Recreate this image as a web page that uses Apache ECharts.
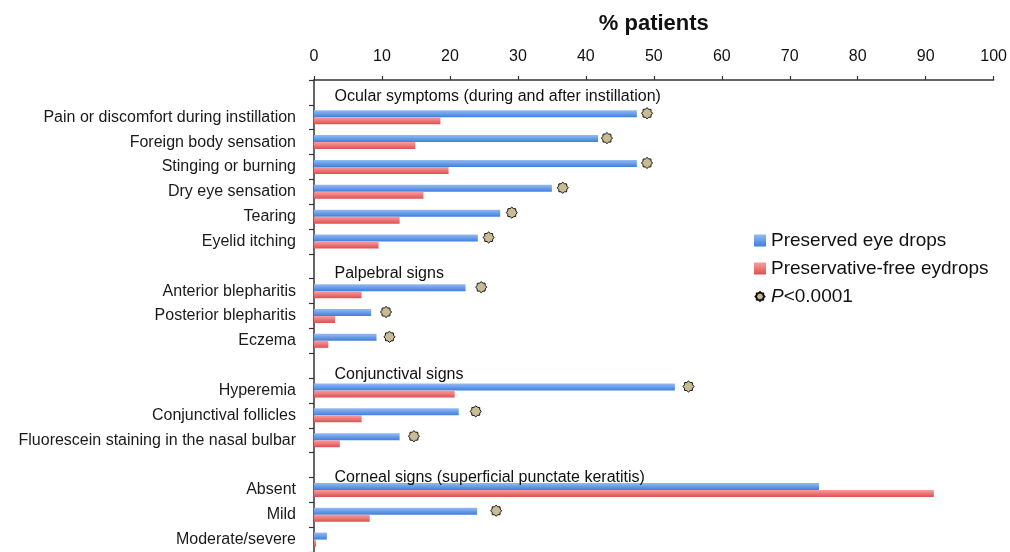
<!DOCTYPE html>
<html>
<head>
<meta charset="utf-8">
<script src="https://cdn.jsdelivr.net/npm/echarts@6/dist/echarts.min.js"></script>
<style>html,body{margin:0;padding:0;background:#fff;}#c{width:1010px;height:552px;}</style>
</head>
<body>
<div id="c"></div>
<script>
const categories = ['', 'Pain or discomfort during instillation', 'Foreign body sensation', 'Stinging or burning',
  'Dry eye sensation', 'Tearing', 'Eyelid itching', '', 'Anterior blepharitis', 'Posterior blepharitis', 'Eczema', '',
  'Hyperemia', 'Conjunctival follicles', 'Fluorescein staining in the nasal bulbar', '', 'Absent', 'Mild', 'Moderate/severe'];
const preserved = [null, 47.5, 41.8, 47.5, 35.0, 27.4, 24.1, null, 22.3, 8.4, 9.2, null, 53.1, 21.3, 12.6, null, 74.3, 24.0, 1.9];
const preservativeFree = [null, 18.6, 14.9, 19.8, 16.1, 12.6, 9.5, null, 7.0, 3.1, 2.1, null, 20.7, 7.0, 3.8, null, 91.2, 8.2, 0.3];
const pMarks = [null, 49.0, 43.1, 49.0, 36.6, 29.1, 25.7, null, 24.6, 10.6, 11.1, null, 55.1, 23.8, 14.7, null, null, 26.8, null];
const headerRows = [0, 7, 11, 15];
const headerTexts = ['Ocular symptoms (during and after instillation)', 'Palpebral signs', 'Conjunctival signs',
  'Corneal signs (superficial punctate keratitis)'];
const xTicks = [0, 10, 20, 30, 40, 50, 60, 70, 80, 90, 100];

const headerDy = [4, 7, 9, 13];

function starPath(n, r1, r2, pad) {
  let d = '';
  for (let i = 0; i < 2 * n; i++) {
    const r = i % 2 ? r2 : r1;
    const a = Math.PI * i / n - Math.PI / 2;
    d += (i ? 'L' : 'M') + (r * Math.cos(a)).toFixed(3) + ' ' + (r * Math.sin(a)).toFixed(3);
  }
  d += 'Z';
  if (pad) d += 'M' + (-pad) + ' ' + (-pad) + 'M' + pad + ' ' + pad;
  return 'path://' + d;
}
const STAR = starPath(8, 1, 0.8, 0);
const STAR_LEGEND = starPath(8, 1, 0.8, 1.35);

const font = '"Liberation Sans", Arial, sans-serif';

const blueGrad = new echarts.graphic.LinearGradient(0, 0, 0, 1, [
  {offset: 0, color: '#94baf6'}, {offset: 1, color: '#3f7fdc'}]);
const redGrad = new echarts.graphic.LinearGradient(0, 0, 0, 1, [
  {offset: 0, color: '#fa9e9e'}, {offset: 1, color: '#de5050'}]);

const chart = echarts.init(document.getElementById('c'));
chart.setOption({
  animation: false,
  backgroundColor: '#fff',
  grid: {left: 314, right: 13, top: 80, height: 475, containLabel: false},
  xAxis: {
    type: 'value', position: 'top', min: 0, max: 100, interval: 10,
    name: '% patients', nameLocation: 'middle', nameGap: 45,
    nameTextStyle: {fontFamily: font, fontWeight: 'bold', fontSize: 22, color: '#111'},
    axisLine: {show: true, lineStyle: {color: '#333', width: 1.5}},
    axisTick: {show: true, length: 4, lineStyle: {color: '#333', width: 1.2}},
    axisLabel: {fontFamily: font, fontSize: 16, color: '#111', margin: 15,
      formatter: v => xTicks.includes(v) ? String(v) : ''},
    splitLine: {show: false}
  },
  yAxis: {
    type: 'category', data: categories, inverse: true,
    axisLine: {show: true, lineStyle: {color: '#333', width: 1.5}},
    axisTick: {show: true, length: 5, lineStyle: {color: '#333', width: 1.2}},
    axisLabel: {fontFamily: font, fontSize: 16, color: '#1a1a1a', margin: 18, interval: 0, padding: [5, 0, 0, 0]},
    splitLine: {show: false}
  },
  legend: {
    orient: 'vertical', left: 748, top: 226, itemWidth: 12, itemHeight: 12, itemGap: 9,
    selectedMode: false,
    textStyle: {fontFamily: font, fontSize: 19, color: '#111',
      rich: {i: {fontFamily: font, fontSize: 19, fontStyle: 'italic', color: '#111'}}},
    data: [
      {name: 'Preserved eye drops', icon: 'rect'},
      {name: 'Preservative-free eydrops', icon: 'rect'},
      {name: 'P<0.0001', icon: STAR_LEGEND}
    ],
    formatter: n => n === 'P<0.0001' ? '{i|P}<0.0001' : n
  },
  series: [
    {name: 'Preserved eye drops', type: 'bar', data: preserved, barWidth: 7, barGap: '0%',
      itemStyle: {color: blueGrad}},
    {name: 'Preservative-free eydrops', type: 'bar', data: preservativeFree, barWidth: 7, barGap: '0%',
      itemStyle: {color: redGrad}},
    {name: 'P<0.0001', type: 'scatter', symbol: STAR, symbolSize: 11, symbolOffset: [0, -4], z: 5,
      itemStyle: {color: '#c9bc95', borderColor: '#111', borderWidth: 1, opacity: 1},
      data: pMarks.map((v, i) => v == null ? null : [v, i]).filter(d => d)},
    {name: 'headers', type: 'scatter', symbol: 'circle', symbolSize: 1, silent: true, z: 6,
      itemStyle: {color: 'rgba(0,0,0,0)', opacity: 1},
      label: {show: true, position: 'right', distance: 20, fontFamily: font, fontSize: 16, color: '#111',
        formatter: p => p.data.text},
      data: headerRows.map((r, k) => ({value: [0, r], text: headerTexts[k], label: {offset: [0, headerDy[k]]}}))}
  ]
});
</script>
</body>
</html>
